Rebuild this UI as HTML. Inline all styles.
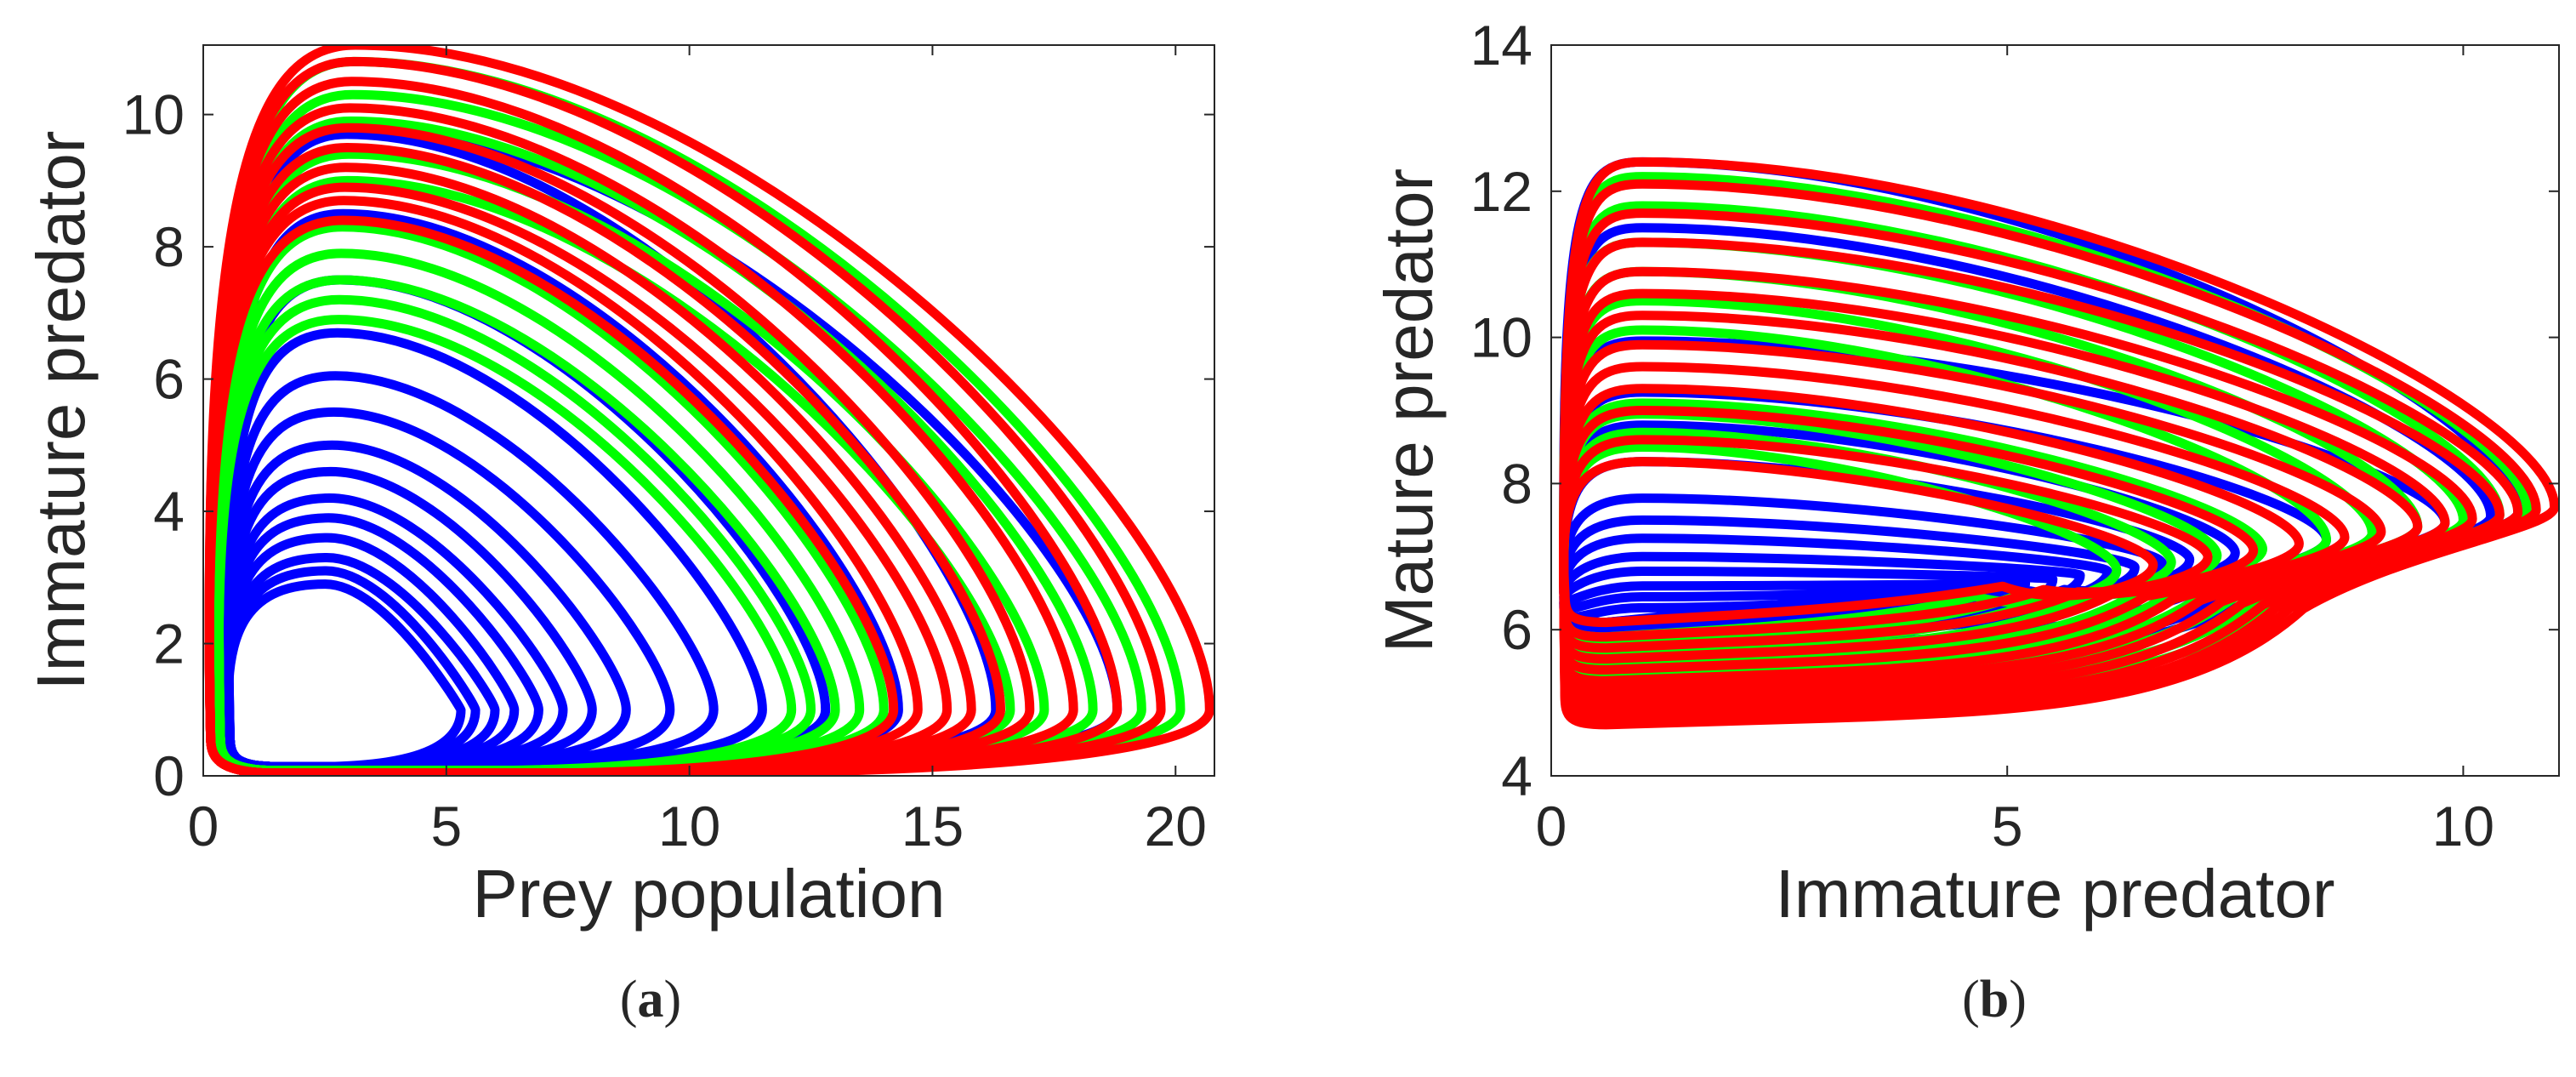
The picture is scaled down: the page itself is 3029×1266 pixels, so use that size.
<!DOCTYPE html>
<html><head><meta charset="utf-8">
<style>
html,body{margin:0;padding:0;background:#fff;}
svg{display:block;}
text{font-family:"Liberation Sans",sans-serif;fill:#262626;}
</style></head>
<body>
<svg id="fig" width="3029" height="1266" viewBox="0 0 3029 1266" xmlns="http://www.w3.org/2000/svg">
<g id="pa"></g>
<g id="pb"></g>
</svg>
<script>
// Panel (a): loop extents (max prey, max immature predator)
const aBlueX=[5.3,5.6,6.0,6.4,6.9,7.4,8.0,8.7,9.6,10.5,11.5,12.8,14.3,16.3,18.8];
const aBlueY=[2.9,3.1,3.3,3.6,3.9,4.2,4.6,5.0,5.5,6.05,6.7,7.5,8.5,9.7,9.8];
const aGreenX=[12.1,12.5,13.0,13.5,14.0,16.6,17.3,18.3,19.3,20.1];
const aGreenY=[6.9,7.2,7.5,7.9,8.3,9.0,9.4,9.9,10.3,10.8];
const aRedX=[14.2,14.7,15.3,15.8,16.4,17.0,17.9,18.8,19.7,20.7];
const aRedY=[8.4,8.7,8.9,9.2,9.5,9.8,10.1,10.5,10.8,11.05];
const aXTicks=[0,5,10,15,20];
const aYTicks=[0,2,4,6,8,10];
// Panel (b): loop extents (top, right, bottom)
const bBlueTop=[6.3,6.45,6.6,6.8,7.0,7.25,7.5,7.8,8.3,8.8,9.25,9.95,11.5,12.4];
const bBlueRight=[4.6,4.9,5.2,5.5,5.8,6.1,6.4,6.7,7.0,7.5,8.5,9.8,10.3,10.6];
const bBlueBottom=[6.1,6.1,6.1,6.05,6.05,6.0,6.0,5.95,5.9,5.85,5.8,5.7,5.5,5.4];
const bGreenTop=[8.5,8.7,8.95,9.1,10.1,10.5,10.9,11.3,11.8,12.2];
const bGreenRight=[6.2,6.8,7.3,7.8,8.5,9.0,9.5,10.0,10.4,10.7];
const bGreenBottom=[5.9,5.8,5.7,5.6,5.5,5.4,5.3,5.2,5.1,5.0];
const bRedTop=[8.3,8.6,9.0,9.3,9.6,9.9,10.3,10.6,10.9,11.3,11.7,12.1,12.4];
const bRedRight=[6.6,7.2,7.7,8.2,8.7,9.1,9.5,9.8,10.1,10.4,10.6,10.8,11.0];
const bRedBottom=[6.1,5.9,5.75,5.6,5.45,5.3,5.2,5.1,5.0,4.9,4.8,4.75,4.7];
const bXTicks=[0,5,10];
const bYTicks=[4,6,8,10,12,14];

const NS="http://www.w3.org/2000/svg";
function mk(tag,attrs,parent){const e=document.createElementNS(NS,tag);for(const k in attrs)e.setAttribute(k,attrs[k]);parent.appendChild(e);return e;}

const ax={x0:239,x1:1428,y0:912,y1:53,xmin:0,xmax:20.8,ymin:0,ymax:11.05};
const bx={x0:1824,x1:3009,y0:912,y1:53,xmin:0,xmax:11.05,ymin:4,ymax:14};
function sx(a,v){return a.x0+(v-a.xmin)/(a.xmax-a.xmin)*(a.x1-a.x0);}
function sy(a,v){return a.y0-(v-a.ymin)/(a.ymax-a.ymin)*(a.y0-a.y1);}
function P(a,x,y){return sx(a,x).toFixed(1)+","+sy(a,y).toFixed(1);}

function loopA(X,Y,L,B){
  const a=ax,px=2.3+0.04*X;
  return "M"+P(a,L,0.6)+" C"+P(a,L-0.2,Y*0.8)+" "+P(a,1.0,Y)+" "+P(a,px,Y)+
    " C"+P(a,px+(X-px)*0.45,Y)+" "+P(a,X,Y*0.35)+" "+P(a,X,1.0)+
    " C"+P(a,X,0.4)+" "+P(a,X*0.8,B+0.03)+" "+P(a,X*0.5,B)+
    " L"+P(a,1.5,B)+" C"+P(a,L+0.1,B)+" "+P(a,L,0.3)+" "+P(a,L,0.6)+"Z";
}
function loopB(Y,X,yb){
  const a=bx,yt=5.7+0.18*X;
  return "M"+P(a,0.15,yb+0.4)+" C"+P(a,0.08,Y-0.4)+" "+P(a,0.3,Y)+" "+P(a,1.0,Y)+
    " C"+P(a,X*0.5,Y)+" "+P(a,X,yt+(Y-yt)*0.3)+" "+P(a,X,yt)+
    " C"+P(a,X,yt-0.3)+" "+P(a,X*0.85,yt-0.6)+" "+P(a,X*0.75,(yt+yb)/2+0.1)+
    " C"+P(a,X*0.65,yb+0.35)+" "+P(a,X*0.5,yb+0.2)+" "+P(a,X*0.3,yb+0.1)+
    " L"+P(a,0.6,yb)+" C"+P(a,0.2,yb)+" "+P(a,0.15,yb+0.1)+" "+P(a,0.15,yb+0.4)+"Z";
}

function makeClip(g,a,cap){
  const clip=mk("clipPath",{id:"clip"+cap},g);
  mk("rect",{x:a.x0,y:a.y1,width:a.x1-a.x0,height:a.y0-a.y1},clip);
}
function frame(g,a,xt,yt,xl,yl,cap,capX,name){
  const box=mk("rect",{x:a.x0,y:a.y1,width:a.x1-a.x0,height:a.y0-a.y1,fill:"none",stroke:"#262626","stroke-width":2},g);
  
  
  xt.forEach(v=>{
    const x=sx(a,v);
    mk("line",{x1:x,y1:a.y0,x2:x,y2:a.y0-12,stroke:"#262626","stroke-width":2},g);
    mk("line",{x1:x,y1:a.y1,x2:x,y2:a.y1+12,stroke:"#262626","stroke-width":2},g);
    const t=mk("text",{x:x,y:a.y0+82,"font-size":66,"text-anchor":"middle"},g);t.textContent=v;
    
    
  });
  yt.forEach(v=>{
    const y=sy(a,v);
    mk("line",{x1:a.x0,y1:y,x2:a.x0+12,y2:y,stroke:"#262626","stroke-width":2},g);
    mk("line",{x1:a.x1,y1:y,x2:a.x1-12,y2:y,stroke:"#262626","stroke-width":2},g);
    const t=mk("text",{x:a.x0-22,y:y+23,"font-size":66,"text-anchor":"end"},g);t.textContent=v;
    
    
  });
  const xlab=mk("text",{x:(a.x0+a.x1)/2,y:1078,"font-size":80,"text-anchor":"middle"},g);xlab.textContent=xl;
  
  
  const ylab=mk("text",{x:0,y:0,"font-size":80,"text-anchor":"middle",transform:"translate("+(a.x0-140)+","+((a.y0+a.y1)/2)+") rotate(-90)"},g);ylab.textContent=yl;
  
  
  const c=mk("text",{x:capX,y:1195,"font-size":62,"text-anchor":"middle",style:"font-family:'Liberation Serif',serif"},g);
  c.innerHTML="(<tspan font-weight='bold'>"+cap+"</tspan>)";
  
  
}

const ga=document.getElementById("pa"), gb=document.getElementById("pb");
makeClip(ga,ax,"a");makeClip(gb,bx,"b");
const la=mk("g",{"clip-path":"url(#clipa)",fill:"none","stroke-width":11,"stroke-linejoin":"round"},ga);
const lb=mk("g",{"clip-path":"url(#clipb)",fill:"none","stroke-width":11,"stroke-linejoin":"round"},gb);

function series(g,color,xs,ys,L,B,name){
  xs.forEach((X,i)=>{
    const p=mk("path",{d:loopA(X,ys[i],L,B),stroke:color},g);
    
    
  });
}
series(la,"#0000ff",aBlueX,aBlueY,0.55,0.14,"blue-trajectory-loop");
series(la,"#00ff00",aGreenX,aGreenY,0.35,0.08,"green-trajectory-loop");
series(la,"#ff0000",aRedX,aRedY,0.15,0.04,"red-trajectory-loop");

function seriesB(g,color,tops,rights,bots,name){
  tops.forEach((Y,i)=>{
    const p=mk("path",{d:loopB(Y,rights[i],bots[i]),stroke:color},g);
    
    
  });
}
seriesB(lb,"#0000ff",bBlueTop,bBlueRight,bBlueBottom,"blue-trajectory-loop");
seriesB(lb,"#00ff00",bGreenTop,bGreenRight,bGreenBottom,"green-trajectory-loop");
seriesB(lb,"#ff0000",bRedTop,bRedRight,bRedBottom,"red-trajectory-loop");

frame(ga,ax,aXTicks,aYTicks,"Prey population","Immature predator","a",765,"panel-a");
frame(gb,bx,bXTicks,bYTicks,"Immature predator","Mature predator","b",2345,"panel-b");
</script>
</body></html>
